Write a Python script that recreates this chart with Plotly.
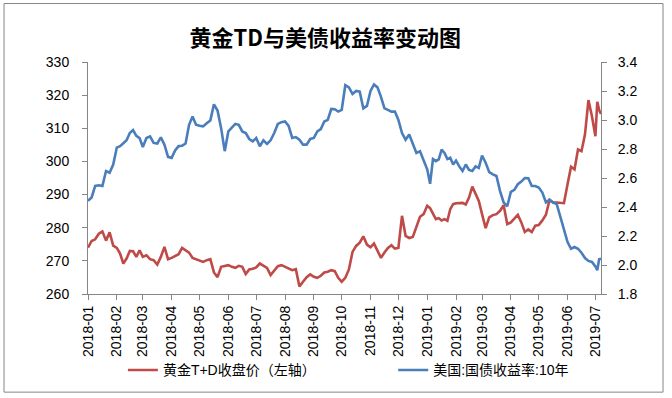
import pandas as pd
import plotly.graph_objects as go

# Month labels (category ticks) and end of data window
months = ["2018-01", "2018-02", "2018-03", "2018-04", "2018-05", "2018-06",
          "2018-07", "2018-08", "2018-09", "2018-10", "2018-11", "2018-12",
          "2019-01", "2019-02", "2019-03", "2019-04", "2019-05", "2019-06",
          "2019-07"]
end_date = "2019-07-07"

# 黄金T+D收盘价 (left axis), values read per month in time order
gold_td = [
    [274.0, 276.0, 276.5, 278.2, 278.9, 276.1, 278.6, 274.6],   # 2018-01
    [273.9, 272.2, 269.2, 270.7, 273.0, 272.9, 271.2, 273.2],   # 2018-02
    [271.2, 271.7, 270.5, 270.2, 268.9, 271.2, 274.2, 270.5],   # 2018-03
    [270.9, 271.5, 272.0, 273.9, 273.2, 272.5, 270.9, 270.5],   # 2018-04
    [269.9, 269.7, 270.2, 270.5, 266.5, 265.1, 268.2, 268.4],   # 2018-05
    [268.7, 268.2, 267.9, 268.5, 268.2, 266.0, 267.4, 267.6],   # 2018-06
    [268.0, 269.2, 268.5, 267.9, 265.7, 267.2, 268.4, 268.7],   # 2018-07
    [268.2, 267.5, 267.2, 267.5, 262.3, 263.7, 265.1, 265.9],   # 2018-08
    [265.2, 264.9, 265.5, 266.5, 266.7, 267.2, 266.9, 264.9],   # 2018-09
    [263.7, 264.9, 267.4, 272.7, 274.5, 275.5, 277.4, 274.9],   # 2018-10
    [274.1, 275.2, 273.2, 270.9, 272.5, 273.9, 274.7, 273.7],   # 2018-11
    [273.9, 283.6, 277.5, 276.9, 277.2, 280.6, 283.3, 284.1],   # 2018-12
    [286.6, 285.9, 284.1, 282.6, 282.9, 282.2, 282.6, 282.1, 285.6, 287.1],  # 2019-01
    [287.4, 287.4, 287.5, 287.0, 289.1, 292.4, 290.1, 288.1],   # 2019-02
    [284.1, 279.9, 283.1, 283.8, 284.1, 285.1, 286.8, 281.1],   # 2019-03
    [281.6, 282.6, 283.9, 281.6, 278.7, 279.5, 278.7, 280.6],   # 2019-04
    [280.8, 282.2, 283.9, 288.4, 287.6, 287.6, 287.6, 287.4],   # 2019-05
    [293.1, 298.4, 297.6, 303.6, 303.1, 308.1, 318.5, 313.6],   # 2019-06
    [307.6, 318.0, 315.5, 314.3],                               # 2019-07
]

# 美国:国债收益率:10年 (right axis)
ust10y = [
    [2.443, 2.466, 2.545, 2.550, 2.545, 2.648, 2.636, 2.693],   # 2018-01
    [2.810, 2.820, 2.840, 2.860, 2.910, 2.930, 2.890, 2.875],   # 2018-02
    [2.814, 2.876, 2.887, 2.842, 2.838, 2.880, 2.830, 2.746],   # 2018-03
    [2.739, 2.790, 2.820, 2.823, 2.838, 2.967, 3.024, 2.967],   # 2018-04
    [2.960, 2.956, 2.978, 2.997, 3.108, 3.065, 2.944, 2.785],   # 2018-05
    [2.921, 2.944, 2.973, 2.967, 2.921, 2.910, 2.869, 2.853],   # 2018-06
    [2.876, 2.819, 2.860, 2.835, 2.860, 2.910, 2.973, 2.985],   # 2018-07
    [2.990, 2.960, 2.876, 2.882, 2.864, 2.830, 2.830, 2.869],   # 2018-08
    [2.876, 2.921, 2.937, 2.990, 3.001, 3.076, 3.074, 3.058],   # 2018-09
    [3.070, 3.240, 3.225, 3.180, 3.200, 3.195, 3.080, 3.097],   # 2018-10
    [3.200, 3.245, 3.225, 3.160, 3.080, 3.070, 3.058, 3.058],   # 2018-11
    [3.000, 2.910, 2.864, 2.900, 2.830, 2.773, 2.785, 2.728],   # 2018-12
    [2.660, 2.560, 2.730, 2.716, 2.728, 2.796, 2.773, 2.730, 2.739, 2.693],  # 2019-01
    [2.720, 2.680, 2.648, 2.693, 2.655, 2.648, 2.680, 2.670],   # 2019-02
    [2.755, 2.705, 2.640, 2.625, 2.614, 2.510, 2.431, 2.405],   # 2019-03
    [2.504, 2.518, 2.557, 2.575, 2.600, 2.598, 2.545, 2.545],   # 2019-04
    [2.534, 2.500, 2.431, 2.450, 2.431, 2.420, 2.329, 2.254],   # 2019-05
    [2.158, 2.112, 2.124, 2.112, 2.085, 2.048, 2.028, 2.021],   # 2019-06
    [1.990, 1.964, 2.040, 2.044],                               # 2019-07
]

left_ticks = [260, 270, 280, 290, 300, 310, 320, 330]
right_ticks = [1.8, 2.0, 2.2, 2.4, 2.6, 2.8, 3.0, 3.2, 3.4]


def spread_dates(month_list, values_by_month, end):
    bounds = [pd.Timestamp(m + "-01") for m in month_list] + [pd.Timestamp(end)]
    xs, ys = [], []
    for k, vals in enumerate(values_by_month):
        a, b = bounds[k], bounds[k + 1]
        n = len(vals)
        denom = (n - 1) if k == len(values_by_month) - 1 else n
        for i, v in enumerate(vals):
            xs.append(a + (b - a) * i / denom)
            ys.append(v)
    return xs, ys


gx, gy = spread_dates(months, gold_td, end_date)
ux, uy = spread_dates(months, ust10y, end_date)

FONT = "Liberation Sans, Arial, Noto Sans CJK SC"
AXIS = "#868686"

fig = go.Figure()
fig.add_trace(go.Scatter(x=gx, y=gy, mode="lines", name="黄金T+D收盘价（左轴）",
                         line=dict(color="#BE4B48", width=2.6), yaxis="y",
                         legend="legend"))
fig.add_trace(go.Scatter(x=ux, y=uy, mode="lines", name="美国:国债收益率:10年",
                         line=dict(color="#4A7EBB", width=2.6), yaxis="y2",
                         legend="legend2"))

legend_common = dict(orientation="h", xanchor="left", yanchor="middle",
                     y=-0.329, font=dict(size=14), bgcolor="rgba(0,0,0,0)")

fig.update_layout(
    width=672, height=398,
    margin=dict(l=88, r=71, t=62, b=102),
    paper_bgcolor="white", plot_bgcolor="white",
    font=dict(family=FONT, size=14, color="black"),
    title=dict(text="<b>黄金TD与美债收益率变动图</b>",
               font=dict(family="Noto Sans CJK SC, Liberation Sans", size=22, color="black"),
               x=0.484, xref="container", xanchor="center",
               y=1 - 38 / 398, yref="container", yanchor="middle"),
    xaxis=dict(type="date", range=[months[0] + "-01", end_date],
               tickvals=[m + "-01" for m in months], ticktext=months,
               tickangle=-90, ticks="outside", ticklen=5, tickcolor=AXIS,
               showline=True, linecolor=AXIS, linewidth=1,
               showgrid=False, zeroline=False,
               tickfont=dict(size=14)),
    yaxis=dict(range=[left_ticks[0], left_ticks[-1]], tickvals=left_ticks,
               ticks="outside", ticklen=5, tickcolor=AXIS,
               showline=True, linecolor=AXIS, linewidth=1,
               showgrid=False, zeroline=False, ticklabelstandoff=10,
               tickfont=dict(size=14)),
    yaxis2=dict(range=[right_ticks[0], right_ticks[-1]], tickvals=right_ticks,
                tickformat=".1f", overlaying="y", side="right",
                ticks="outside", ticklen=5, tickcolor=AXIS,
                showline=True, linecolor=AXIS, linewidth=1,
                showgrid=False, zeroline=False, ticklabelstandoff=8,
                tickfont=dict(size=14)),
    legend=dict(x=0.068, **legend_common),
    legend2=dict(x=0.595, **legend_common),
    showlegend=True,
    hovermode=False,
)

fig.add_shape(type="rect", xref="paper", yref="paper",
              x0=-0.1637, x1=1.1209, y0=-0.423, y1=1.252,
              line=dict(color=AXIS, width=1), fillcolor="rgba(0,0,0,0)",
              layer="below")

fig.write_html("out.html", config={"displayModeBar": False},
               post_script="document.body.style.margin='0';document.body.style.padding='0';")
